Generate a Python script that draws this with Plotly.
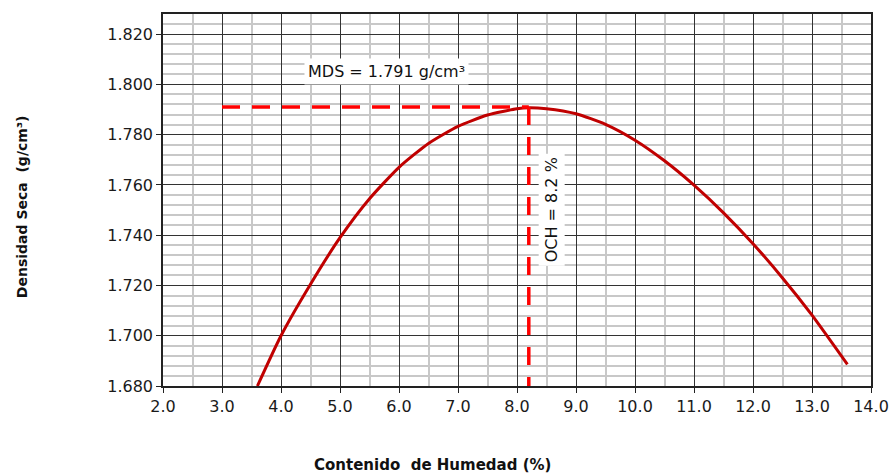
import plotly.graph_objects as go

# Data
humedad = [3.6, 4.0, 4.5, 5.0, 5.5, 6.0, 6.5, 7.0, 7.5, 8.0, 8.2, 8.5, 9.0, 9.5,
           10.0, 10.5, 11.0, 11.5, 12.0, 12.5, 13.0, 13.6]
densidad = [1.680, 1.700, 1.7205, 1.7390, 1.7545, 1.7670, 1.7765, 1.7833, 1.7878,
            1.7903, 1.7907, 1.7903, 1.7883, 1.7841, 1.7778, 1.7696, 1.7599, 1.7489,
            1.7366, 1.7230, 1.7082, 1.6886]

mds = 1.791
och = 8.2
x_guide_start = 3.0
y_min = 1.680
y_max = 1.828
x_min, x_max = 2.0, 14.0

FONT = "DejaVu Sans, Verdana, Arial"

fig = go.Figure()

fig.add_trace(go.Scatter(
    x=humedad, y=densidad, mode="lines",
    line=dict(color="#c00000", width=3, shape="spline", smoothing=0.6),
    showlegend=False, hoverinfo="skip"))

fig.add_trace(go.Scatter(
    x=[x_guide_start, och], y=[mds, mds], mode="lines",
    line=dict(color="#ff0000", width=3.5, dash="18px,12px"),
    showlegend=False, hoverinfo="skip"))

fig.add_trace(go.Scatter(
    x=[och, och], y=[mds, y_min], mode="lines",
    line=dict(color="#ff0000", width=3.5, dash="18px,12px"),
    showlegend=False, hoverinfo="skip"))

fig.add_annotation(x=5.79, y=1.8053, text="MDS = 1.791 g/cm³", showarrow=False,
                   font=dict(family=FONT, size=16, color="#111"),
                   bgcolor="white", borderpad=3)
fig.add_annotation(x=8.58, y=1.750, text="OCH = 8.2 %", showarrow=False, textangle=-90,
                   font=dict(family=FONT, size=16, color="#111"),
                   bgcolor="white", borderpad=3)

axis_common = dict(
    showline=True, linecolor="#222", linewidth=1.5, mirror=True,
    ticks="outside", ticklen=5, tickcolor="#222",
    gridcolor="#333", gridwidth=1, zeroline=False, automargin=False,
    tickfont=dict(family=FONT, size=16, color="#1a1a1a"),
)

fig.update_xaxes(
    range=[x_min, x_max], dtick=1, tick0=2, tickformat=".1f",
    minor=dict(dtick=0.5, showgrid=True, gridcolor="#c8c8c8", gridwidth=1.5),
    **axis_common)
fig.update_yaxes(
    range=[y_min, y_max], dtick=0.02, tick0=1.68, tickformat=".3f",
    minor=dict(dtick=0.004, tick0=1.68, showgrid=True, gridcolor="#c8c8c8", gridwidth=1.5),
    **axis_common)

fig.add_annotation(xref="paper", yref="paper", x=0.381, y=-0.212, yanchor="middle",
                   text="<b>Contenido  de Humedad (%)</b>", showarrow=False,
                   font=dict(family=FONT, size=15, color="#111"))
fig.add_annotation(xref="paper", yref="paper", x=-0.199, y=0.481, xanchor="center",
                   text="<b>Densidad Seca  (g/cm³)</b>", showarrow=False, textangle=-90,
                   font=dict(family=FONT, size=14, color="#111"))

fig.update_layout(
    width=890, height=473,
    margin=dict(l=163, r=19, t=14, b=87),
    paper_bgcolor="white", plot_bgcolor="white",
)

fig.write_html("out.html")
